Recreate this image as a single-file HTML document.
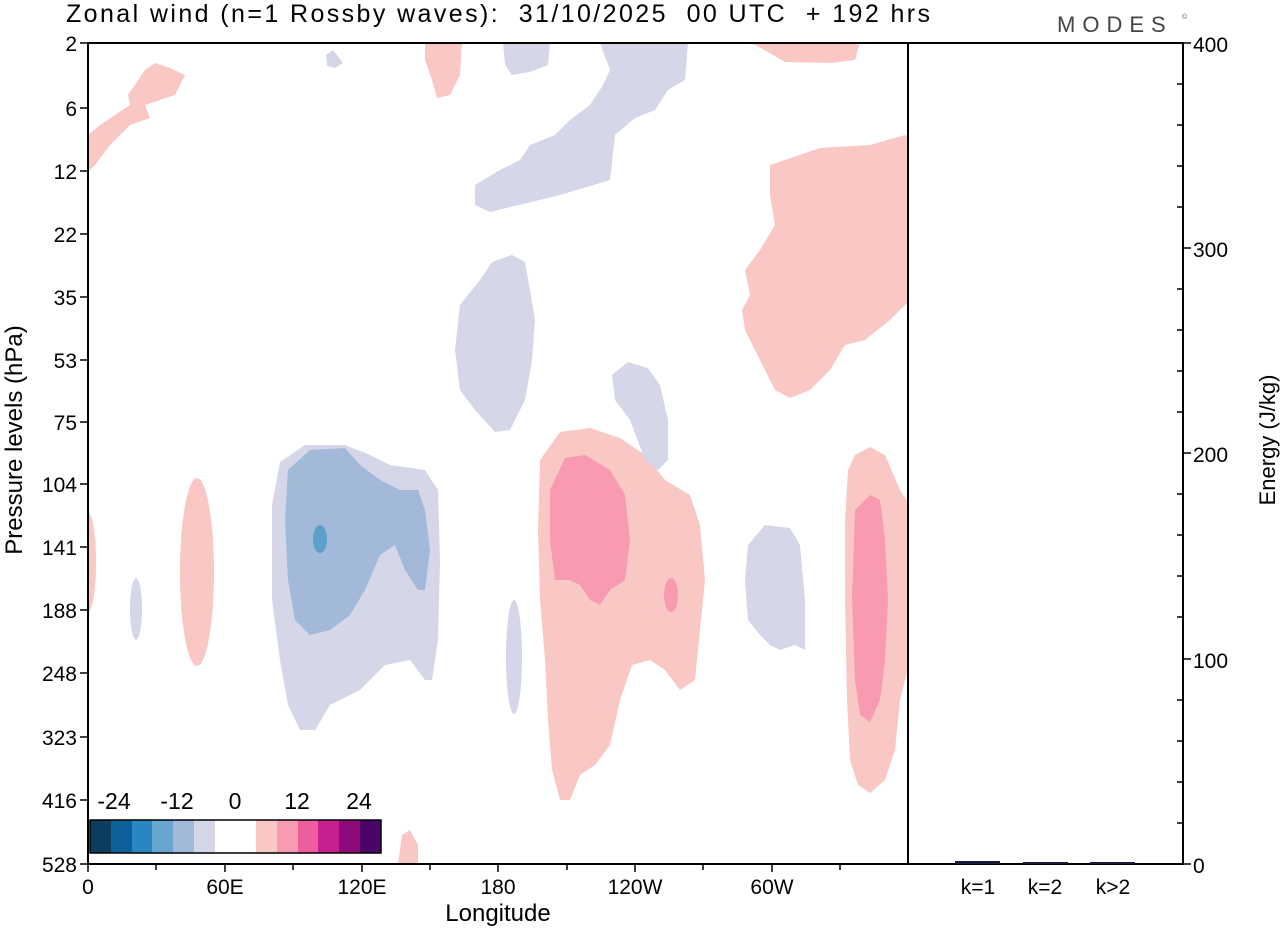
<!DOCTYPE html>
<html><head><meta charset="utf-8"><style>
body{margin:0;background:#fff}
svg{display:block;font-family:"Liberation Sans",sans-serif}
.pre{white-space:pre}
</style></head><body>
<svg width="1280" height="930" viewBox="0 0 1280 930">
<rect width="1280" height="930" fill="#fff"/>
<text class="pre" x="66" y="22" font-size="25" textLength="864" lengthAdjust="spacing">Zonal wind (n=1 Rossby waves):  31/10/2025  00 UTC  + 192 hrs</text>
<text x="1057" y="32" font-size="22" fill="#444" letter-spacing="7">MODES</text>
<text x="1182" y="19" font-size="7" fill="#666">©</text>
<g clip-path="url(#c)">
<clipPath id="c"><rect x="88" y="43" width="820" height="821"/></clipPath>
<g fill="#f9c8c4">
<path d="M88,135 L100,125 L130,105 L128,95 L145,70 L155,63 L170,68 L185,75 L175,95 L145,105 L150,118 L130,125 L110,145 L95,165 L88,172 Z"/>
<path d="M425,43 L462,43 L460,75 L450,95 L437,98 L432,80 L425,60 Z"/>
<path d="M752,43 L860,43 L855,60 L830,63 L785,62 Z"/>
<path d="M770,165 L820,148 L870,145 L905,135 L910,140 L910,300 L890,320 L865,340 L845,345 L830,370 L810,390 L790,398 L775,390 L765,370 L755,350 L745,330 L742,310 L750,295 L745,270 L760,250 L775,225 L770,195 Z"/>
<ellipse cx="197" cy="572" rx="17" ry="94"/>
<ellipse cx="88" cy="562" rx="8" ry="50"/>
<path d="M540,460 L560,432 L590,428 L620,438 L645,455 L665,480 L690,495 L700,525 L705,580 L700,630 L695,680 L680,690 L665,670 L650,660 L632,665 L620,700 L610,745 L595,765 L580,775 L570,800 L560,800 L552,770 L548,720 L545,660 L540,600 L538,530 Z"/>
<path d="M848,470 L855,455 L870,447 L885,455 L900,490 L910,505 L910,660 L900,700 L895,750 L885,780 L870,793 L858,785 L850,760 L847,700 L845,600 L845,520 Z"/>
<path d="M398,864 L402,835 L410,830 L418,845 L418,864 Z"/>
</g>
<g fill="#d5d6e7">
<path d="M326,55 L333,50 L343,63 L335,68 L327,66 Z"/>
<path d="M503,43 L550,43 L548,65 L530,72 L512,75 L505,65 Z"/>
<path d="M600,43 L688,43 L685,80 L668,90 L655,110 L635,118 L615,135 L610,180 L560,195 L490,212 L475,205 L475,185 L500,170 L520,160 L530,145 L555,135 L570,120 L590,105 L603,85 L610,70 Z"/>
<path d="M460,305 L480,280 L492,262 L512,255 L525,262 L530,290 L535,320 L532,360 L525,400 L510,430 L495,432 L475,410 L460,390 L455,350 Z"/>
<path d="M612,375 L628,362 L648,368 L660,385 L668,420 L668,460 L658,470 L645,460 L630,420 L615,400 Z"/>
<path d="M272,505 L280,462 L305,445 L345,445 L370,455 L390,465 L425,470 L438,490 L440,560 L438,640 L432,680 L425,680 L410,660 L385,665 L360,690 L330,705 L315,730 L300,730 L288,705 L280,660 L272,600 Z"/>
<ellipse cx="136" cy="609" rx="6" ry="31"/>
<ellipse cx="514" cy="657" rx="8" ry="57"/>
<path d="M748,545 L765,525 L790,528 L800,545 L805,600 L805,650 L795,645 L780,650 L770,645 L760,635 L748,620 L745,580 Z"/>
</g>
<path fill="#a2b9d9" d="M288,470 L310,450 L345,448 L360,465 L380,480 L400,490 L418,490 L425,510 L430,550 L425,590 L418,590 L405,570 L395,545 L380,555 L365,590 L350,615 L330,630 L310,635 L295,620 L288,580 L285,520 Z"/>
<ellipse cx="320" cy="539" rx="7" ry="14" fill="#5da0cc"/>
<g fill="#f89ab2">
<path d="M550,490 L565,458 L585,455 L610,470 L625,495 L630,540 L625,580 L610,590 L600,605 L590,600 L580,585 L570,580 L555,580 L550,540 Z"/>
<ellipse cx="671" cy="595" rx="7" ry="17"/>
<path d="M855,510 L870,495 L880,500 L885,540 L888,600 L885,660 L880,700 L870,722 L860,715 L855,680 L852,600 Z"/>
</g>
</g>
<g stroke="none">
<rect x="90" y="820" width="21" height="33" fill="#0c3c5e"/>
<rect x="111" y="820" width="21" height="33" fill="#0c6199"/>
<rect x="132" y="820" width="20" height="33" fill="#2a86c0"/>
<rect x="152" y="820" width="21" height="33" fill="#66a6d1"/>
<rect x="173" y="820" width="21" height="33" fill="#a2b9d9"/>
<rect x="194" y="820" width="21" height="33" fill="#d5d6e7"/>
<rect x="256" y="820" width="21" height="33" fill="#f9c8c4"/>
<rect x="277" y="820" width="21" height="33" fill="#f89ab2"/>
<rect x="298" y="820" width="20" height="33" fill="#ee5e9f"/>
<rect x="318" y="820" width="21" height="33" fill="#c71f8d"/>
<rect x="339" y="820" width="21" height="33" fill="#8e0a7c"/>
<rect x="360" y="820" width="21" height="33" fill="#4c046b"/>
</g>
<rect x="90" y="820" width="291" height="33" fill="none" stroke="#000" stroke-width="1.5"/>
<g font-size="23" text-anchor="middle">
<text x="114" y="809">-24</text><text x="177" y="809">-12</text><text x="235" y="809">0</text><text x="297" y="809">12</text><text x="359" y="809">24</text>
</g>
<g fill="none" stroke="#000" stroke-width="2">
<rect x="88" y="43" width="1095" height="821"/>
<line x1="908" y1="43" x2="908" y2="864"/>
</g>
<g stroke="#000" stroke-width="1.5">
<line x1="80" y1="43" x2="88" y2="43"/><line x1="80" y1="108" x2="88" y2="108"/><line x1="80" y1="171" x2="88" y2="171"/><line x1="80" y1="234" x2="88" y2="234"/><line x1="80" y1="297" x2="88" y2="297"/><line x1="80" y1="360" x2="88" y2="360"/><line x1="80" y1="422" x2="88" y2="422"/><line x1="80" y1="484" x2="88" y2="484"/><line x1="80" y1="547" x2="88" y2="547"/><line x1="80" y1="610" x2="88" y2="610"/><line x1="80" y1="673" x2="88" y2="673"/><line x1="80" y1="737" x2="88" y2="737"/><line x1="80" y1="800" x2="88" y2="800"/><line x1="80" y1="864" x2="88" y2="864"/>
<line x1="88" y1="864" x2="88" y2="872"/><line x1="156" y1="864" x2="156" y2="870"/><line x1="225" y1="864" x2="225" y2="872"/><line x1="293" y1="864" x2="293" y2="870"/><line x1="362" y1="864" x2="362" y2="872"/><line x1="430" y1="864" x2="430" y2="870"/><line x1="498" y1="864" x2="498" y2="872"/><line x1="567" y1="864" x2="567" y2="870"/><line x1="635" y1="864" x2="635" y2="872"/><line x1="703" y1="864" x2="703" y2="870"/><line x1="772" y1="864" x2="772" y2="872"/><line x1="840" y1="864" x2="840" y2="870"/>
<line x1="1183" y1="43" x2="1191" y2="43"/><line x1="1183" y1="248" x2="1191" y2="248"/><line x1="1183" y1="453" x2="1191" y2="453"/><line x1="1183" y1="659" x2="1191" y2="659"/><line x1="1183" y1="864" x2="1191" y2="864"/>
<line x1="1177" y1="84" x2="1183" y2="84"/><line x1="1177" y1="125" x2="1183" y2="125"/><line x1="1177" y1="166" x2="1183" y2="166"/><line x1="1177" y1="207" x2="1183" y2="207"/><line x1="1177" y1="289" x2="1183" y2="289"/><line x1="1177" y1="330" x2="1183" y2="330"/><line x1="1177" y1="371" x2="1183" y2="371"/><line x1="1177" y1="412" x2="1183" y2="412"/><line x1="1177" y1="494" x2="1183" y2="494"/><line x1="1177" y1="535" x2="1183" y2="535"/><line x1="1177" y1="576" x2="1183" y2="576"/><line x1="1177" y1="617" x2="1183" y2="617"/><line x1="1177" y1="700" x2="1183" y2="700"/><line x1="1177" y1="741" x2="1183" y2="741"/><line x1="1177" y1="782" x2="1183" y2="782"/><line x1="1177" y1="823" x2="1183" y2="823"/>
</g>
<g fill="#1a1a3a">
<rect x="955" y="861" width="45" height="3"/><rect x="1023" y="862" width="45" height="2"/><rect x="1090" y="862" width="45" height="2"/>
</g>
<g font-size="21" text-anchor="end">
<text x="77" y="51">2</text><text x="77" y="116">6</text><text x="77" y="179">12</text><text x="77" y="242">22</text><text x="77" y="305">35</text><text x="77" y="368">53</text><text x="77" y="430">75</text><text x="77" y="492">104</text><text x="77" y="555">141</text><text x="77" y="618">188</text><text x="77" y="681">248</text><text x="77" y="745">323</text><text x="77" y="808">416</text><text x="77" y="872">528</text>
</g>
<g font-size="21" text-anchor="middle">
<text x="88" y="894">0</text><text x="225" y="894">60E</text><text x="362" y="894">120E</text><text x="498" y="894">180</text><text x="635" y="894">120W</text><text x="772" y="894">60W</text>
<text x="978" y="894">k=1</text><text x="1045" y="894">k=2</text><text x="1113" y="894">k&gt;2</text>
<text x="498" y="921" font-size="24">Longitude</text>
</g>
<g font-size="21">
<text x="1193" y="52">400</text><text x="1193" y="257">300</text><text x="1193" y="462">200</text><text x="1193" y="668">100</text><text x="1193" y="873">0</text>
</g>
<text transform="translate(22,440) rotate(-90)" font-size="24" text-anchor="middle">Pressure levels (hPa)</text>
<text transform="translate(1275,440) rotate(-90)" font-size="22" text-anchor="middle">Energy (J/kg)</text>
</svg>
</body></html>
